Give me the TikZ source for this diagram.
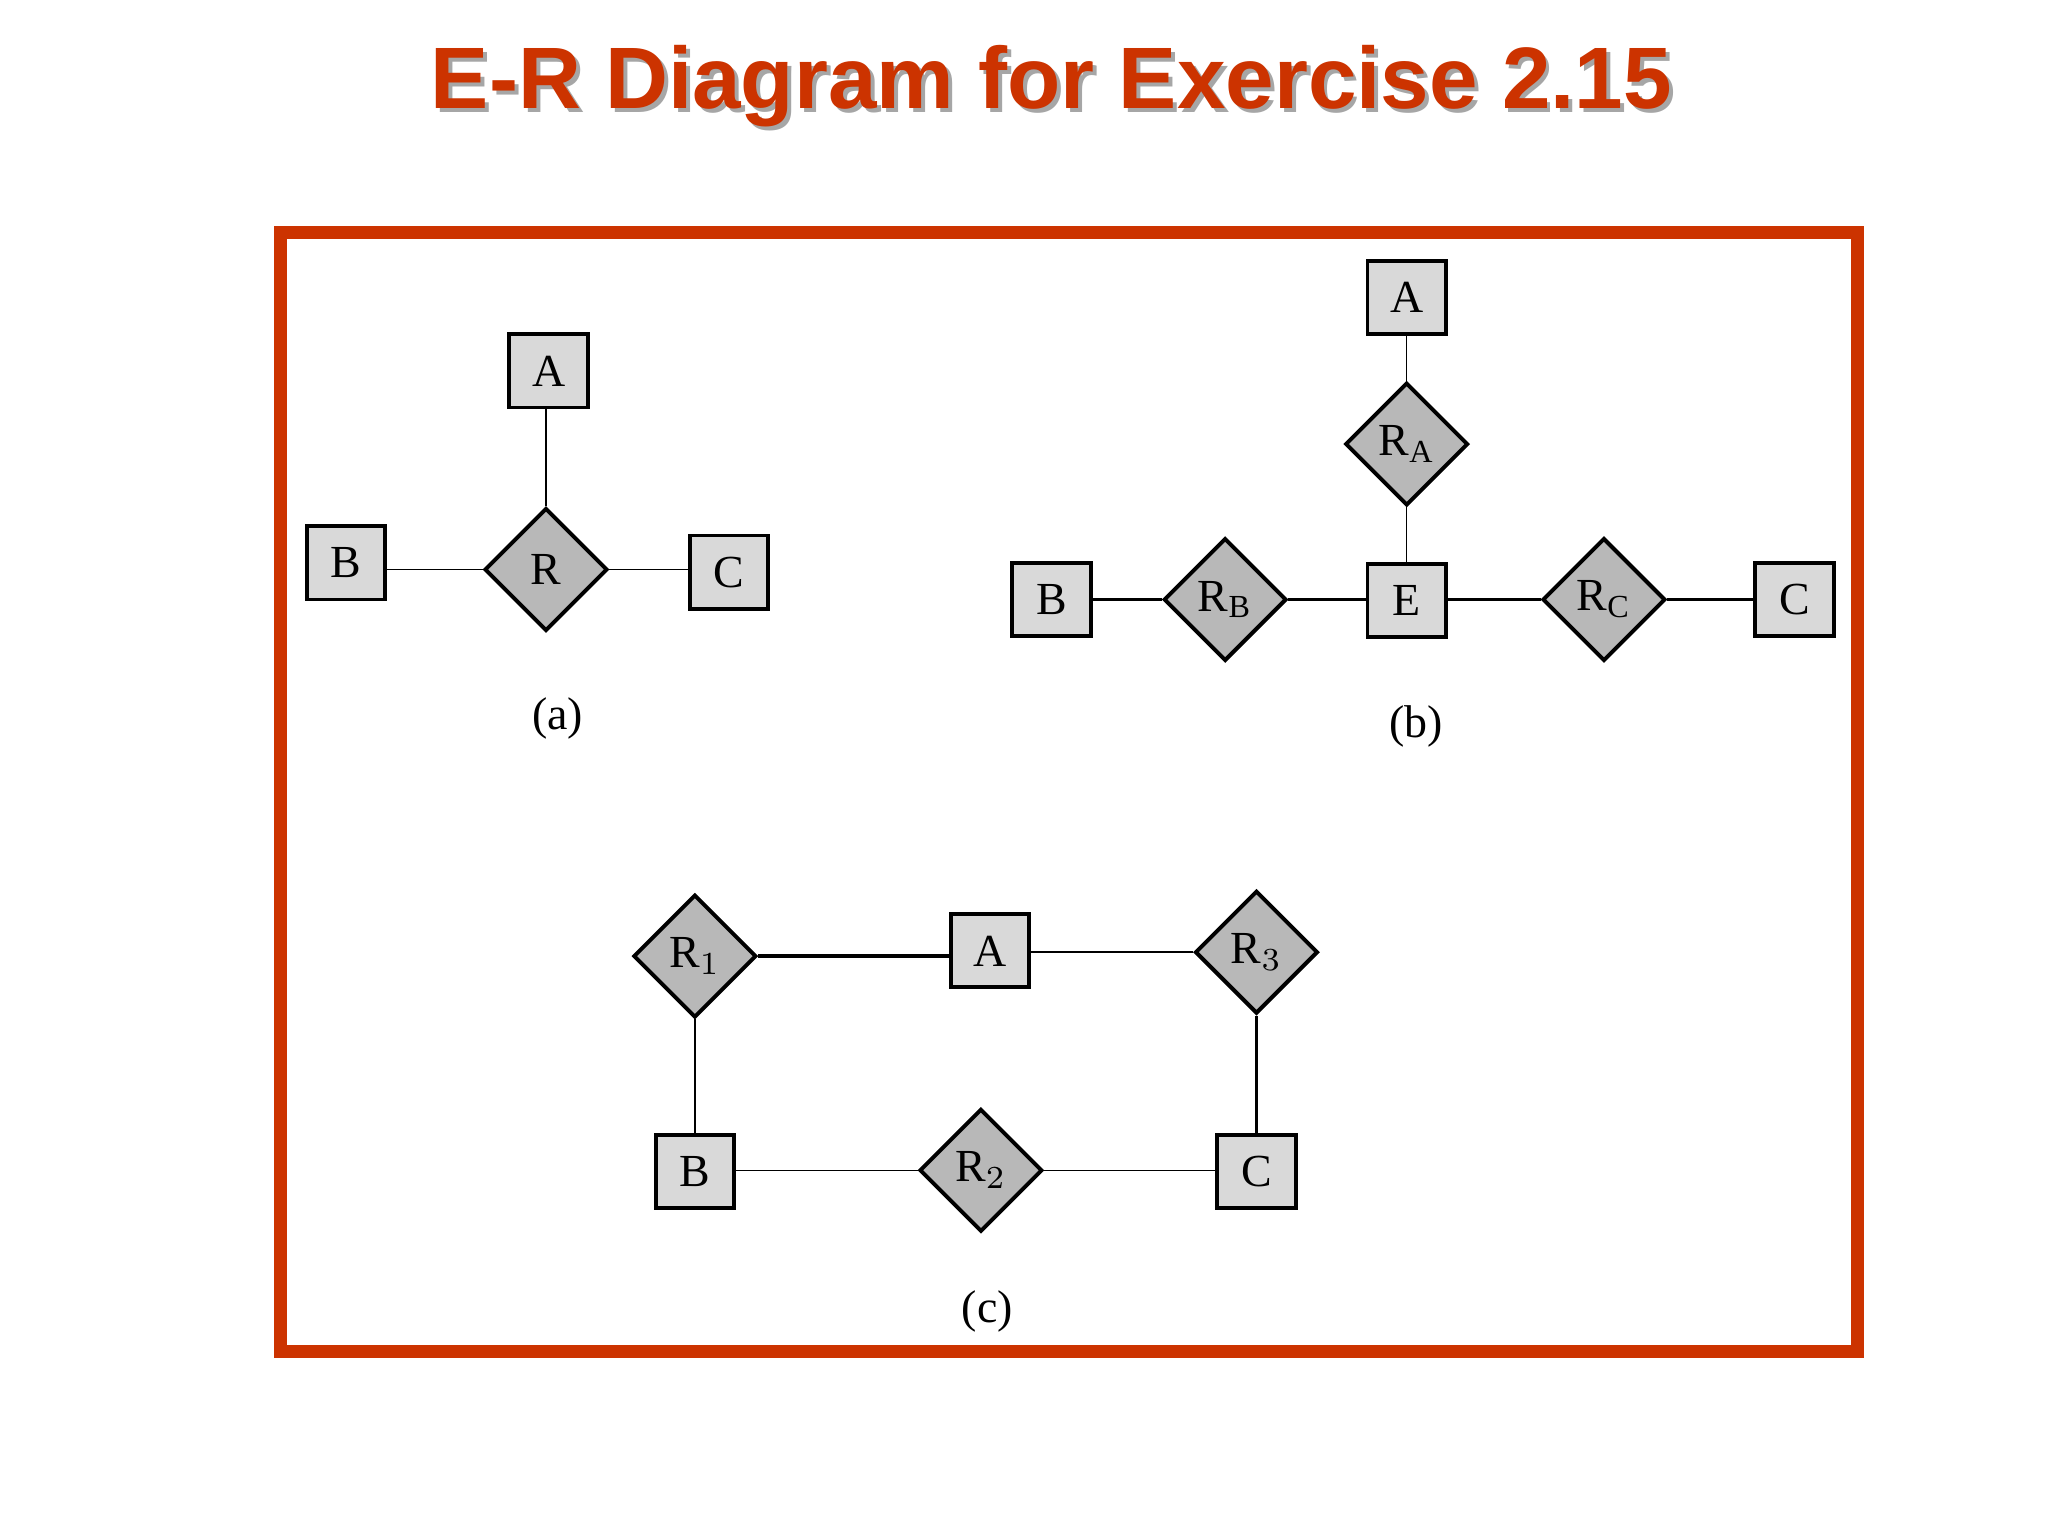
\documentclass[tikz,border=0pt]{standalone}
\usepackage{fontspec}
\setmainfont{Liberation Serif}
\newfontfamily\titlefont{Liberation Sans}
\usetikzlibrary{shapes.geometric}
\definecolor{frame}{HTML}{CC3300}
\definecolor{boxgray}{HTML}{D9D9D9}
\tikzset{
  ent/.style={draw=black, fill=boxgray, line width=0.3mm, minimum width=6mm, minimum height=5.6mm, inner sep=0pt, font=\fontsize{10}{12}\selectfont},
  rel/.style={draw=black, fill=boxgray!85!black, line width=0.3mm, diamond, minimum width=9.4mm, minimum height=9.4mm, inner sep=0pt, font=\fontsize{10}{12}\selectfont},
  thinline/.style={line width=0.12mm},
  thkline/.style={line width=0.3mm},
  caption/.style={font=\fontsize{10}{12}\selectfont}
}
\begin{document}
\begin{tikzpicture}[x=0.1mm,y=-0.1mm]
\useasboundingbox (0,0) rectangle (1568,1176);
\node[text=gray!70, font=\titlefont\bfseries\fontsize{19}{23}\selectfont] at (808,69) {E-R Diagram for Exercise 2.15};
\node[text=frame, font=\titlefont\bfseries\fontsize{19}{23}\selectfont] (title) at (805,66) {E-R Diagram for Exercise 2.15};
\draw[frame, line width=1mm] (215,178) rectangle (1422,1035);
% (a)
\node[ent] (aA) at (420,284) {A};
\node[ent] (aB) at (265,431) {B};
\node[rel] (aR) at (418,436) {R};
\node[ent] (aC) at (558,438) {C};
\draw[thinline] (aR.north) -- (aR.north |- aA.south);
\draw[thinline] (aR.west) -- (aR.west -| aB.east);
\draw[thinline] (aR.east) -- (aR.east -| aC.west);
\node[caption] (la) at (427,550) {(a)};
% (b)
\node[ent] (bA) at (1077,228) {A};
\node[rel] (bRA) at (1077,340) {R$_\mathrm{A}$};
\node[ent] (bE) at (1077,460) {E};
\node[ent] (bB) at (805,459) {B};
\node[rel] (bRB) at (938,459) {R$_\mathrm{B}$};
\node[rel] (bRC) at (1228,459) {R$_\mathrm{C}$};
\node[ent] (bC) at (1374,459) {C};
\draw[thinline] (bA) -- (bRA);
\draw[thinline] (bRA) -- (bE);
\draw[thkline] (bB.east) -- (bRB.west);
\draw[thkline] (bRB.east) -- (bRB.east -| bE.west);
\draw[thkline] (bRC.west) -- (bRC.west -| bE.east);
\draw[thkline] (bRC.east) -- (bC.west);
\node[caption] (lb) at (1084,556) {(b)};
% (c)
\node[rel] (cR1) at (532,732) {R$_1$};
\node[ent] (cA) at (758,728) {A};
\node[rel] (cR3) at (962,729) {R$_3$};
\node[ent] (cB) at (532,897) {B};
\node[rel] (cR2) at (751,896) {R$_2$};
\node[ent] (cC) at (962,897) {C};
\draw[thkline] (cR1.east) -- (cR1.east -| cA.west);
\draw[thinline] (cR3.west) -- (cR3.west -| cA.east);
\draw[thinline] (cR1) -- (cB);
\draw[thkline] (cR3) -- (cC);
\draw[thinline] (cR2.west) -- (cR2.west -| cB.east);
\draw[thinline] (cR2.east) -- (cR2.east -| cC.west);
\node[caption] (lc) at (756,1004) {(c)};
\end{tikzpicture}
\end{document}
